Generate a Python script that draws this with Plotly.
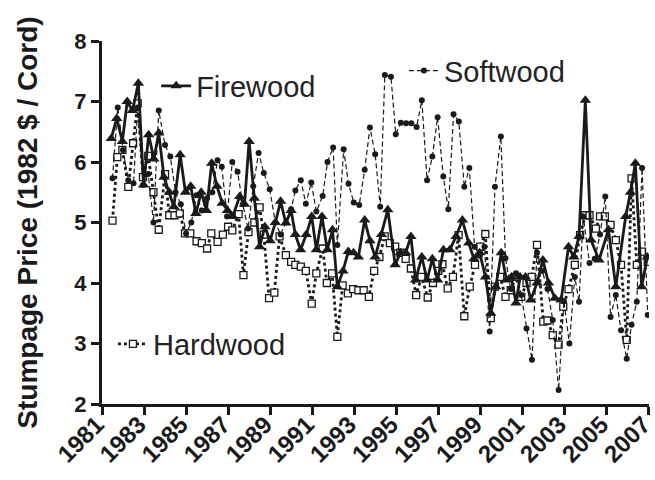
import plotly.graph_objects as go

# ---- Data (decimal year, price in 1982 $ / cord) ----
fire_x = [1981.44, 1981.7, 1981.97, 1982.2, 1982.45, 1982.73, 1982.98, 1983.22, 1983.47, 1983.7,
          1983.95, 1984.2, 1984.42, 1984.72, 1984.97, 1985.22, 1985.47, 1985.72, 1985.97, 1986.22,
          1986.47, 1986.72, 1986.97, 1987.22, 1987.55, 1987.78, 1988.0, 1988.25, 1988.5, 1988.75,
          1989.0, 1989.25, 1989.5, 1989.75, 1990.0, 1990.2, 1990.45, 1990.72, 1990.98, 1991.2,
          1991.47, 1991.72, 1991.97, 1992.2, 1992.47, 1992.72, 1992.97, 1993.2, 1993.5, 1993.75,
          1994.0, 1994.3, 1994.6, 1994.95, 1995.2, 1995.45, 1995.7, 1995.92, 1996.22, 1996.47,
          1996.72, 1996.97, 1997.25, 1997.55, 1997.85, 1998.15, 1998.45, 1998.7, 1998.97, 1999.25,
          1999.5, 1999.74, 2000.0, 2000.25, 2000.48, 2000.7, 2000.9, 2001.15, 2001.4, 2001.7,
          2001.98, 2002.25, 2002.55, 2002.85, 2003.2, 2003.45, 2003.7, 2004.0, 2004.27, 2004.65,
          2005.1, 2005.45, 2005.92, 2006.15, 2006.38, 2006.68, 2006.95]
fire_y = [6.39, 6.72, 6.34, 7.0, 6.85, 7.3, 5.62, 6.45, 6.05, 6.48,
          5.75, 5.5, 5.26, 6.12, 5.5, 5.6, 5.15, 5.5, 5.2, 5.98,
          5.6, 5.32, 5.2, 5.1, 5.43, 5.3, 6.34, 5.4, 4.6, 4.93,
          4.7, 5.0, 5.35, 4.99, 5.2, 4.8, 4.55, 4.8, 5.1, 4.55,
          5.1, 4.55, 4.88, 3.94, 4.2, 4.52, 4.5, 4.43, 5.04, 4.7,
          4.43, 4.8, 5.21, 4.3, 4.5, 4.5, 4.77, 4.05, 4.43, 4.05,
          4.4, 4.05, 4.55, 4.55, 4.77, 5.04, 4.66, 4.4, 4.5, 4.1,
          3.5, 3.94, 4.5, 4.05, 4.1, 3.67, 4.1, 4.1, 3.72, 4.0,
          4.38, 4.0, 3.75, 3.72, 4.6, 4.43, 4.77, 7.02, 4.71, 4.38,
          4.88, 3.94, 5.1, 5.5, 5.98, 3.94, 4.43]

soft_x = [1981.5, 1981.75, 1982.0, 1982.25, 1982.5, 1982.7, 1982.95, 1983.2, 1983.45, 1983.7,
          1984.0, 1984.25, 1984.5, 1984.75, 1985.0, 1985.25, 1985.5, 1985.75, 1986.0, 1986.25,
          1986.5, 1986.7, 1986.95, 1987.2, 1987.45, 1987.7, 1987.95, 1988.2, 1988.45, 1988.7,
          1988.98, 1989.25, 1989.5, 1989.75, 1990.0, 1990.2, 1990.46, 1990.7, 1990.96, 1991.2,
          1991.5, 1991.73, 1992.0, 1992.2, 1992.5, 1992.73, 1992.98, 1993.24, 1993.5, 1993.75,
          1994.0, 1994.24, 1994.46, 1994.75, 1994.98, 1995.22, 1995.47, 1995.72, 1995.97, 1996.22,
          1996.47, 1996.72, 1996.97, 1997.24, 1997.48, 1997.73, 1997.98, 1998.24, 1998.48, 1998.73,
          1998.98, 1999.2, 1999.45, 1999.7, 1999.98, 2000.2, 2000.45, 2000.7, 2000.95, 2001.2,
          2001.46, 2001.7, 2001.95, 2002.2, 2002.45, 2002.73, 2002.98, 2003.24, 2003.5, 2003.7,
          2003.9, 2004.2, 2004.45, 2004.7, 2004.95, 2005.2, 2005.45, 2005.7, 2005.97, 2006.2,
          2006.45, 2006.7, 2006.97]
soft_y = [5.73, 6.9, 6.2, 5.7, 5.65, 6.9, 5.62, 5.8, 5.0, 6.85,
          6.28, 6.09, 5.5, 5.3, 4.82, 5.0, 5.45, 5.2, 5.4, 5.5,
          6.03, 5.92, 5.1, 6.0, 5.84, 5.3, 4.9, 5.6, 6.15, 5.82,
          5.55, 5.0, 4.8, 5.0, 5.22, 5.53, 5.7, 5.31, 5.66, 5.18,
          5.44, 6.0, 6.24, 4.63, 6.21, 5.64, 5.33, 5.29, 5.87, 6.57,
          6.13, 5.26, 7.44, 7.41, 6.46, 6.65, 6.64, 6.64, 6.58, 7.02,
          5.7, 6.09, 6.74, 5.76, 5.22, 6.79, 6.67, 5.59, 5.9, 4.6,
          4.45, 4.6, 3.2, 5.59, 6.42, 4.41, 3.9, 4.16, 3.8, 3.25,
          2.73, 4.5, 4.2, 3.9, 3.39, 2.23, 3.7, 3.0, 4.1, 3.69,
          5.1, 4.33, 4.4, 4.8, 5.43, 3.44, 3.8, 3.22, 2.75, 3.31,
          3.69, 5.9, 3.47]

hard_x = [1981.5, 1981.73, 1981.97, 1982.25, 1982.48, 1982.7, 1982.95, 1983.2, 1983.45, 1983.7,
          1984.0, 1984.2, 1984.45, 1984.7, 1984.95, 1985.2, 1985.5, 1985.75, 1986.0, 1986.2,
          1986.5, 1986.75, 1987.0, 1987.2, 1987.5, 1987.73, 1987.97, 1988.25, 1988.5, 1988.7,
          1988.95, 1989.2, 1989.45, 1989.75, 1990.0, 1990.2, 1990.46, 1990.7, 1990.98, 1991.2,
          1991.5, 1991.7, 1991.95, 1992.2, 1992.45, 1992.7, 1992.95, 1993.2, 1993.45, 1993.7,
          1993.95, 1994.2, 1994.45, 1994.7, 1994.95, 1995.2, 1995.45, 1995.7, 1995.95, 1996.2,
          1996.5, 1996.75, 1997.0, 1997.2, 1997.45, 1997.7, 1997.97, 1998.24, 1998.5, 1998.75,
          1999.0, 1999.24, 1999.5, 1999.7, 1999.95, 2000.2, 2000.45, 2000.7, 2000.95, 2001.2,
          2001.45, 2001.7, 2002.0, 2002.2, 2002.45, 2002.73, 2002.95, 2003.2, 2003.5, 2003.75,
          2004.0, 2004.2, 2004.5, 2004.7, 2004.93, 2005.2, 2005.45, 2005.7, 2005.97, 2006.2,
          2006.45, 2006.7, 2006.97]
hard_y = [5.03, 6.08, 6.2, 5.59, 6.31, 6.97, 5.75, 6.1, 5.5, 4.88,
          5.8, 5.12, 5.12, 5.15, 4.82, 4.82, 4.69, 4.66, 4.57, 4.82,
          4.68, 4.8, 4.93, 4.87, 5.14, 4.13, 4.84, 5.0, 5.25, 4.8,
          3.75, 3.84, 4.77, 4.46, 4.35, 4.3, 4.27, 4.2, 3.66, 4.16,
          4.57, 4.0, 4.16, 3.11, 3.96, 3.83, 3.9, 3.88, 3.88, 3.77,
          4.2, 4.43, 4.77, 4.66, 4.6, 4.5, 4.4, 4.24, 3.8, 4.1,
          3.76, 4.0, 4.2, 4.31, 3.91, 4.1, 4.79, 3.45, 3.94, 4.3,
          4.6, 4.81, 3.42, 3.94, 4.1, 3.77, 3.88, 4.1, 3.77, 4.0,
          4.1, 4.63, 3.36, 3.38, 3.14, 2.98, 3.61, 3.9, 4.3, 4.79,
          5.12, 5.12, 4.9, 5.1, 5.1, 4.96, 4.71, 4.3, 3.06, 5.73,
          4.3, 4.52, 4.35]

year_ticks = list(range(1981, 2008, 2))
y_ticks = [2, 3, 4, 5, 6, 7, 8]

INK = "#1a1a1a"
FONT = "Liberation Sans, Arial, sans-serif"

fig = go.Figure()

fig.add_trace(go.Scatter(
    x=hard_x, y=hard_y, name="Hardwood", mode="lines+markers",
    line=dict(color=INK, width=2.8, dash="dot"),
    marker=dict(symbol="square", size=7, color="white", line=dict(color=INK, width=1.3)),
    legend="legend3"))

fig.add_trace(go.Scatter(
    x=soft_x, y=soft_y, name="Softwood", mode="lines+markers",
    line=dict(color=INK, width=1.2, dash="5px,3px"),
    marker=dict(symbol="circle", size=6, color=INK),
    legend="legend2"))

fig.add_trace(go.Scatter(
    x=fire_x, y=fire_y, name="Firewood", mode="lines+markers",
    line=dict(color=INK, width=2.8),
    marker=dict(symbol="triangle-up", size=10, color=INK),
    legend="legend"))

leg_common = dict(bgcolor="rgba(0,0,0,0)", borderwidth=0,
                  font=dict(family=FONT, size=29, color="#222"),
                  xanchor="left", yanchor="middle")

fig.update_layout(
    width=655, height=480,
    margin=dict(l=102, r=6, t=41, b=76, autoexpand=False),
    plot_bgcolor="white", paper_bgcolor="white",
    showlegend=True,
    legend=dict(x=0.099, y=0.876, **leg_common),
    legend2=dict(x=0.552, y=0.918, **leg_common),
    legend3=dict(x=0.02, y=0.165, **leg_common),
    xaxis=dict(range=[1981, 2007.03], tickvals=year_ticks, ticktext=[str(v) for v in year_ticks],
               tickangle=-45, showline=True, linecolor=INK, linewidth=3,
               ticks="outside", ticklen=8, tickwidth=3, tickcolor=INK,
               showgrid=False, zeroline=False, ticklabelstandoff=-14, ticklabelshift=-5,
               ticklabeloverflow="allow", automargin=False,
               tickfont=dict(family=FONT, size=24, color=INK, weight="bold")),
    yaxis=dict(range=[2, 8], tickvals=y_ticks, showline=True, linecolor=INK, linewidth=3,
               ticks="outside", ticklen=8, tickwidth=3, tickcolor=INK,
               showgrid=False, zeroline=False, automargin=False,
               tickfont=dict(family=FONT, size=22, color=INK, weight="bold"),
               title=dict(text="Stumpage Price (1982 $ / Cord)", standoff=29,
                          font=dict(family=FONT, size=28, color=INK, weight="bold"))),
)

fig.write_html("out.html", config={"displayModeBar": False},
               post_script="document.body.style.margin='0';document.body.style.padding='0';")
